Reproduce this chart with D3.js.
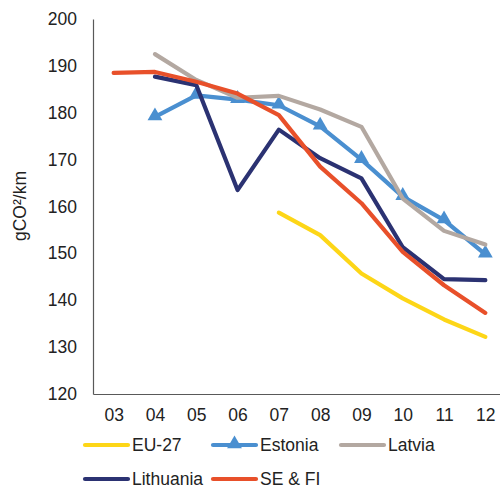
<!DOCTYPE html>
<html>
<head>
<meta charset="utf-8">
<script src="https://cdn.jsdelivr.net/npm/d3@7"></script>
<style>
  body { margin: 0; background: #fff; }
  svg { display: block; font-family: "Liberation Sans", Arial, sans-serif; }
</style>
</head>
<body>
<svg id="chart" width="500" height="488"></svg>
<script>
// years on the x axis
const years = ["03", "04", "05", "06", "07", "08", "09", "10", "11", "12"];

// gCO2/km per year (null = no data)
const eu27      = [null, null, null, null, 158.7, 153.9, 145.7, 140.4, 135.9, 132.2];
const estonia   = [null, 179.1, 183.7, 182.8, 181.6, 177.1, 170.0, 162.1, 157.1, 149.8];
const latvia    = [null, 192.5, 187.0, 183.2, 183.6, 180.7, 177.0, 161.7, 154.8, 151.9];
const lithuania = [null, 187.7, 185.9, 163.5, 176.4, 170.3, 166.0, 151.3, 144.5, 144.3];
const sefi      = [188.5, 188.7, 186.6, 184.1, 179.5, 168.5, 160.7, 150.3, 143.2, 137.3];

const yTicks = [120, 130, 140, 150, 160, 170, 180, 190, 200];

const series = [
  { name: "EU-27", values: eu27, color: "#FDD617" },
  { name: "Estonia", values: estonia, color: "#4A8FD0", marker: true },
  { name: "Latvia", values: latvia, color: "#B3A8A1" },
  { name: "Lithuania", values: lithuania, color: "#2B3272" },
  { name: "SE & FI", values: sefi, color: "#E8502A" }
];

const fontSize = 17.5;
const svg = d3.select("#chart");
const plotLeft = 93, plotTop = 19, plotBottom = 394, plotRight = 506;

const x = d3.scalePoint().domain(years).range([plotLeft, plotRight]).padding(0.5);
const y = d3.scaleLinear().domain([120, 200]).range([plotBottom, plotTop]);

// axes
const yAxis = svg.append("g")
  .attr("transform", `translate(${plotLeft},0)`)
  .call(d3.axisLeft(y).tickValues(yTicks).tickSize(0).tickPadding(16));
yAxis.select(".domain").attr("stroke", "#595959").attr("stroke-width", 1.2);
yAxis.selectAll("text").attr("font-size", fontSize).attr("fill", "#222")
  .attr("font-family", "Liberation Sans, Arial, sans-serif");

const xAxis = svg.append("g")
  .attr("transform", `translate(0,${plotBottom})`)
  .call(d3.axisBottom(x).tickSize(0).tickPadding(15));
xAxis.select(".domain").attr("stroke", "#595959").attr("stroke-width", 1.2);
xAxis.selectAll("text").attr("font-size", fontSize).attr("fill", "#222")
  .attr("font-family", "Liberation Sans, Arial, sans-serif");

svg.append("text")
  .attr("transform", "translate(26,206) rotate(-90)")
  .attr("text-anchor", "middle")
  .attr("font-size", fontSize)
  .attr("fill", "#222")
  .text("gCO²/km");

// lines
const line = d3.line()
  .defined(d => d != null)
  .x((d, i) => x(years[i]))
  .y(d => y(d));

const tri = d3.symbol().type(d3.symbolTriangle).size(95);

series.forEach(s => {
  svg.append("path")
    .attr("d", line(s.values))
    .attr("fill", "none")
    .attr("stroke", s.color)
    .attr("stroke-width", 4.2)
    .attr("stroke-linejoin", "round")
    .attr("stroke-linecap", "round");
  if (s.marker) {
    svg.append("g").selectAll("path")
      .data(s.values.map((v, i) => ({ v, i })).filter(d => d.v != null))
      .join("path")
      .attr("d", tri)
      .attr("transform", d => `translate(${x(years[d.i])},${y(d.v) - 1})`)
      .attr("fill", s.color);
  }
});

// legend
const legendPos = [
  { x: 83, y: 445 }, { x: 211, y: 445 }, { x: 339, y: 445 },
  { x: 83, y: 479 }, { x: 211, y: 479 }
];
series.forEach((s, i) => {
  const p = legendPos[i];
  const g = svg.append("g").attr("transform", `translate(${p.x},${p.y})`);
  g.append("line")
    .attr("x1", 2).attr("x2", 45)
    .attr("stroke", s.color)
    .attr("stroke-width", 4.2)
    .attr("stroke-linecap", "round");
  if (s.marker) {
    g.append("path").attr("d", tri).attr("transform", "translate(23.5,-1)").attr("fill", s.color);
  }
  g.append("text")
    .attr("x", 49)
    .attr("dy", "0.36em")
    .attr("font-size", fontSize)
    .attr("fill", "#222")
    .text(s.name);
});
</script>
</body>
</html>
